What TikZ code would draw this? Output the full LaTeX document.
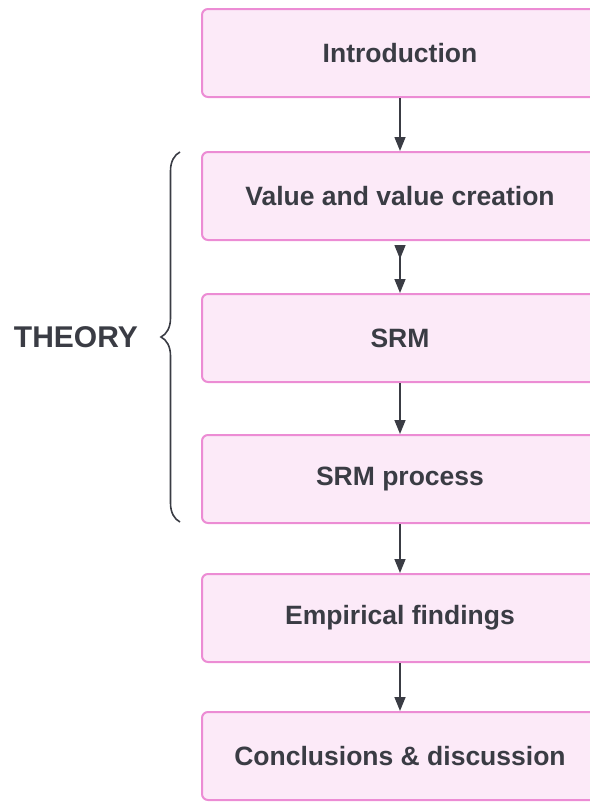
\documentclass[tikz,border=0pt]{standalone}
\usepackage{fontspec}
\setmainfont{Liberation Sans}
\usetikzlibrary{arrows.meta,decorations.pathreplacing}
\definecolor{boxfill}{RGB}{252,234,248}
\definecolor{boxdraw}{RGB}{236,140,212}
\definecolor{ink}{RGB}{58,60,68}
\tikzset{
  stagebox/.style={draw=boxdraw, fill=boxfill, line width=2pt, rounded corners=6pt,
    minimum width=396pt, minimum height=88pt, inner sep=0pt,
    font=\fontsize{26.5}{30}\selectfont\bfseries, text=ink},
  flow/.style={draw=ink, line width=1.5pt, -{Triangle[length=14pt,width=11pt]}},
}
\begin{document}
\begin{tikzpicture}[x=1pt,y=-1pt]
\useasboundingbox (0,0) rectangle (589,803);
\node[stagebox] (intro) at (400,53) {Introduction};
\node[stagebox] (value) at (400,196) {Value and value creation};
\node[stagebox] (srm) at (400,338) {SRM};
\node[stagebox] (proc) at (400,479) {SRM process};
\node[stagebox] (emp) at (400,618) {Empirical findings};
\node[stagebox] (conc) at (400,756) {Conclusions \& discussion};
\draw[flow] (intro.south) -- (srm.north |- value.north);
\draw[draw=ink, line width=1.5pt, {Triangle[reversed,length=14pt,width=11pt]}-{Triangle[length=14pt,width=11pt]}] ([yshift=-4pt]value.south) -- (srm.north);
\draw[flow] (srm.south) -- (proc.north);
\draw[flow] (proc.south) -- (emp.north);
\draw[flow] (emp.south) -- (conc.north);
\coordinate (bt) at (180,152);
\coordinate (bb) at (180,522);
\draw[ink, line width=1.6pt, decorate, decoration={brace, amplitude=19pt}] (bb) -- (bt)
  node[midway, left=38pt, font=\fontsize{30}{34}\selectfont\bfseries, text=ink] (theory) {THEORY};
\end{tikzpicture}
\end{document}
